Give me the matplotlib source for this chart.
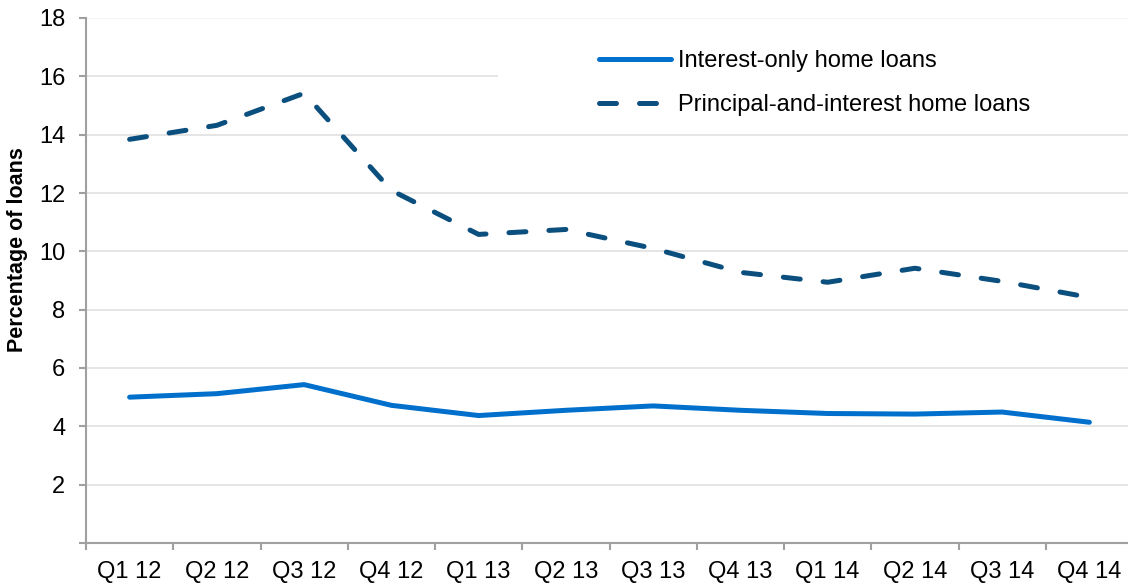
import matplotlib
matplotlib.use("Agg")
import matplotlib.pyplot as plt
from matplotlib.patches import Rectangle

# 数据
quarters = ["Q1 12", "Q2 12", "Q3 12", "Q4 12", "Q1 13", "Q2 13",
            "Q3 13", "Q4 13", "Q1 14", "Q2 14", "Q3 14", "Q4 14"]
interest_only = [5.00, 5.12, 5.43, 4.72, 4.37, 4.55, 4.70, 4.55, 4.44, 4.42, 4.49, 4.14]
principal_interest = [13.84, 14.32, 15.42, 12.09, 10.58, 10.75, 10.10, 9.28, 8.94, 9.42, 8.97, 8.42]

plt.rcParams['font.family'] = ['Liberation Sans', 'DejaVu Sans']

W, H = 1128, 585
fig = plt.figure(figsize=(W / 100, H / 100), dpi=100)
ax = fig.add_axes([86 / W, 1 - 543 / H, (1133 - 86) / W, (543 - 18) / H])

x = list(range(len(quarters)))
ax.plot(x, interest_only, color="#0070cc", lw=3.6, solid_capstyle="round",
        label="Interest-only home loans", zorder=3)
ax.plot(x, principal_interest, color="#0b4f7e", lw=3.6, linestyle=(0, (3.4, 4.6)),
        dash_capstyle="round", label="Principal-and-interest home loans", zorder=3)

ax.set_xlim(-0.5, len(quarters) - 0.5)
ax.set_ylim(0, 18)
ax.set_yticks(range(0, 19, 2))
ax.set_yticklabels([""] + [str(v) for v in range(2, 19, 2)])
ax.set_xticks([i + 0.5 for i in range(-1, len(quarters))])
ax.set_xticklabels([])
ax.set_xticks(x, minor=True)
ax.set_xticklabels(quarters, minor=True)
ax.tick_params(axis="x", which="minor", length=0, pad=13, labelsize=17)
ax.tick_params(axis="x", which="major", length=5, width=1.5, color="#a0a0a0", direction="out")
ax.tick_params(axis="y", length=5, width=1.5, color="#a0a0a0", labelsize=17, pad=10)

ax.grid(axis="y", color="#e0e0e0", lw=1.2)
ax.get_ygridlines()[-1].set_color("#f2f2f2")
ax.set_axisbelow(True)
for s in ["top", "right"]:
    ax.spines[s].set_visible(False)
for s in ["left", "bottom"]:
    ax.spines[s].set_color("#a0a0a0")
    ax.spines[s].set_linewidth(1.5)

# y轴标题
fig.text(18 / W, 1 - 250 / H, "Percentage of loans", rotation=90, ha="center", va="center",
         fontsize=15.5, fontweight="bold")

# 图例背景（遮住网格线）
ax.add_patch(Rectangle((498 / W, 1 - 120 / H), 1, 90 / H, transform=fig.transFigure,
                       facecolor="white", edgecolor="none", zorder=1))

leg = ax.legend(loc="upper left", bbox_to_anchor=(599 / W, 1 - 50 / H),
                bbox_transform=fig.transFigure, frameon=False,
                fontsize=17, handlelength=3.05, handletextpad=0.3, labelspacing=0.93,
                borderpad=0, borderaxespad=0)

fig.savefig("out.png", dpi=100)
